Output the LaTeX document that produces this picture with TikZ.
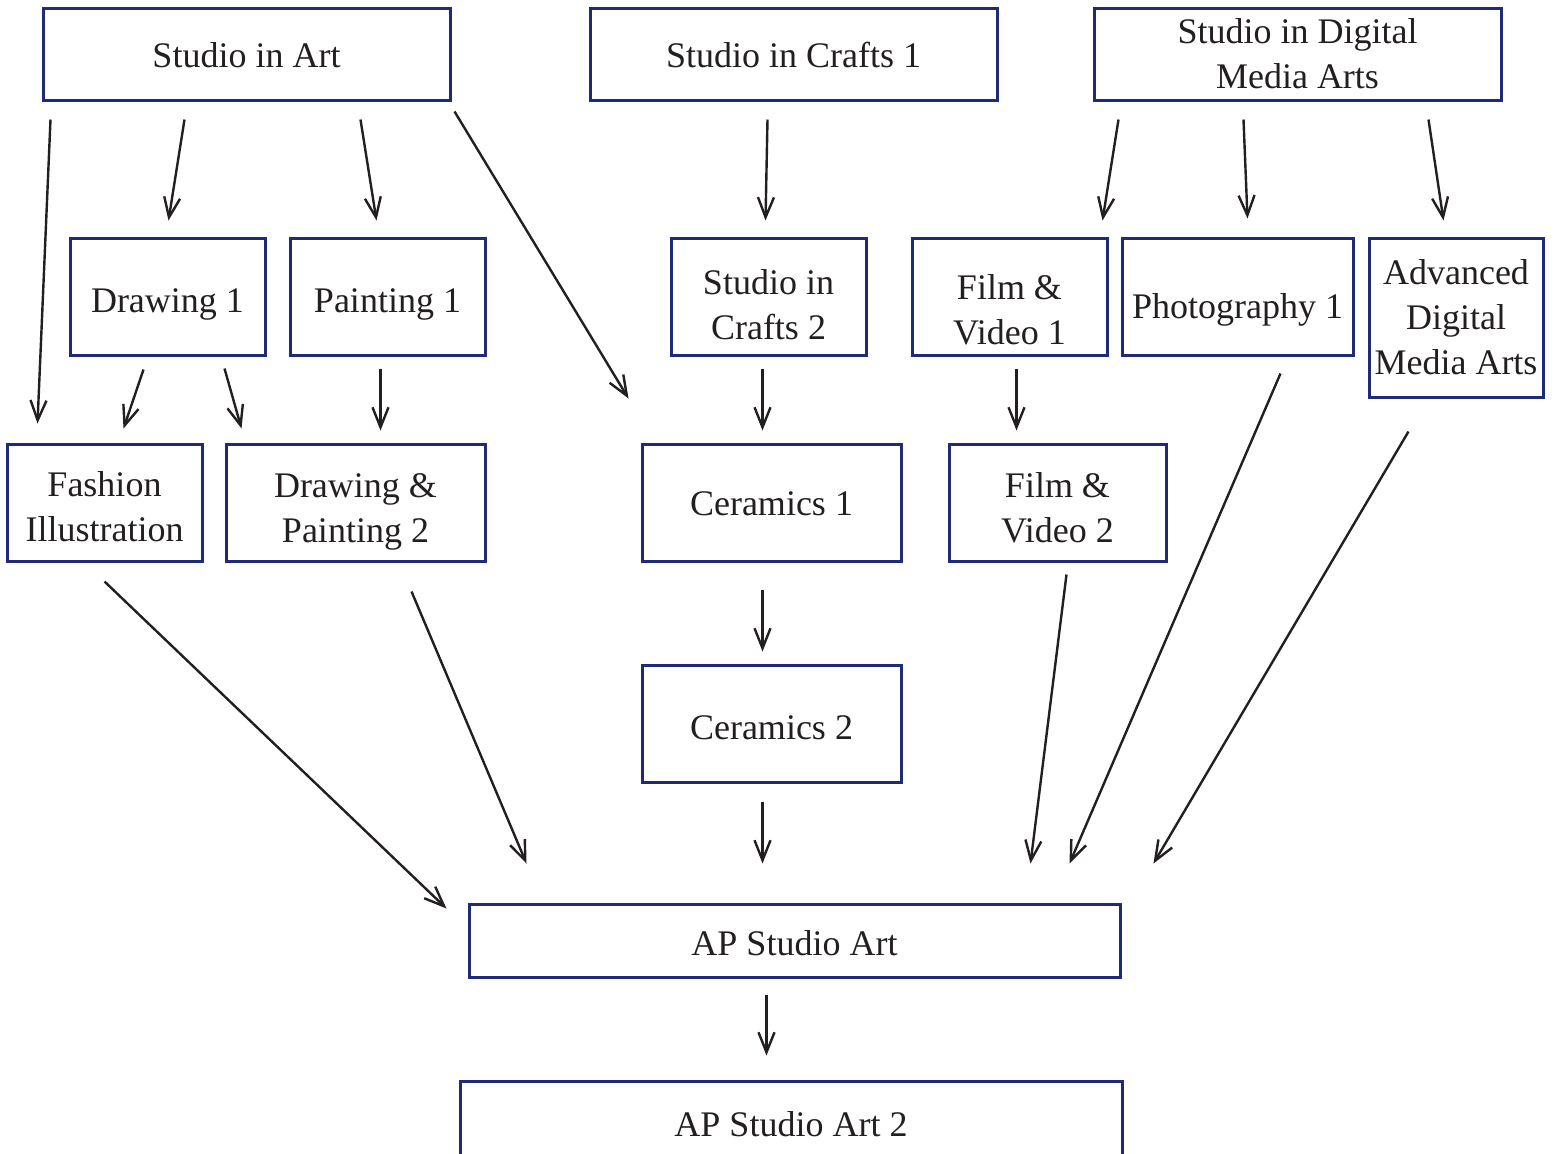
\documentclass[tikz,border=0pt]{standalone}
\usepackage{fontspec}
\setmainfont{Liberation Serif}
\usetikzlibrary{arrows.meta,calc}
\definecolor{navy}{HTML}{1F2A78}
\definecolor{ink}{HTML}{231F20}
\tikzset{
  box/.style={draw=navy,line width=1.5pt,rectangle,inner sep=0pt,
    text=ink,font=\fontsize{18pt}{22.5pt}\selectfont},
  arr/.style={draw=ink,line width=1.2pt,-{Straight Barb[length=10pt,width=8pt]}}
}
\newcommand{\mybox}[7]{\node[box,minimum width={(#4-#2)*0.5pt},minimum height={(#5-#3)*0.5pt}] (#1) at ({(#2+#4)/2},{(#3+#5)/2})
  {\raisebox{-#6pt}[\height][\depth]{\begin{tabular}{@{}c@{}}#7\end{tabular}}};}
\begin{document}
\begin{tikzpicture}[x=0.5pt,y=-0.5pt]
\useasboundingbox (0,0) rectangle (1554,1153);
\mybox{sa}{43}{8}{450}{100}{2}{Studio in Art}
\mybox{sc1}{590}{8}{997}{100}{2}{Studio in Crafts 1}
\mybox{sd}{1094}{8}{1501}{100}{1.5}{Studio in Digital\\Media Arts}
\mybox{d1}{70}{238}{265}{355}{3.5}{Drawing 1}
\mybox{p1}{290}{238}{485}{355}{3.5}{Painting 1}
\mybox{sc2}{671}{238}{866}{355}{5.5}{Studio in\\Crafts 2}
\mybox{fv1}{912}{238}{1107}{355}{8}{Film \&\\Video 1}
\mybox{ph}{1122}{238}{1353}{355}{6.5}{Photography 1}
\mybox{adv}{1369}{238}{1543}{397}{1.5}{Advanced\\Digital\\Media Arts}
\mybox{fi}{7}{444}{202}{561}{3.5}{Fashion\\Illustration}
\mybox{dp2}{226}{444}{485}{561}{4}{Drawing \&\\Painting 2}
\mybox{c1}{642}{444}{901}{561}{2}{Ceramics 1}
\mybox{fv2}{949}{444}{1166}{561}{4}{Film \&\\Video 2}
\mybox{c2}{642}{665}{901}{782}{3.5}{Ceramics 2}
\mybox{ap}{469}{904}{1120}{977}{3}{AP Studio Art}
\mybox{ap2}{460}{1081}{1122}{1167}{1.5}{AP Studio Art 2}

\draw[arr] ($(sa.south west)+(9,18)$) -- ($(fi.north west)+(32,-19)$);
\draw[arr] ($(sa.south west)+(143,18)$) -- ($(d1.north west)+(100,-16)$);
\draw[arr] ($(sa.south west)+(319,18)$) -- ($(p1.north west)+(88,-16)$);
\draw[arr] ($(sa.south east)+(3,10)$) -- ($(c1.north west)+(-12,-44)$);
\draw[arr] ($(sc1.south west)+(179,18)$) -- ($(sc2.north west)+(96,-16)$);
\draw[arr] ($(sd.south west)+(26,18)$) -- ($(fv1.north west)+(192,-16)$);
\draw[arr] ($(sd.south west)+(151,18)$) -- ($(ph.north west)+(127,-18)$);
\draw[arr] ($(sd.south west)+(336,18)$) -- ($(adv.north west)+(76,-16)$);
\draw[arr] ($(d1.south west)+(75,13)$) -- ($(fi.north west)+(118,-14)$);
\draw[arr] ($(d1.south west)+(156,12)$) -- ($(dp2.north west)+(17,-14)$);
\draw[arr] ($(p1.south west)+(92,12)$) -- ($(dp2.north west)+(156,-12)$);
\draw[arr] ($(sc2.south west)+(93,12)$) -- ($(c1.north west)+(122,-12)$);
\draw[arr] ($(fv1.south west)+(106,12)$) -- ($(fv2.north west)+(69,-12)$);
\draw[arr] ($(c1.south west)+(122,27)$) -- ($(c2.north west)+(122,-12)$);
\draw[arr] ($(fi.south west)+(99,19)$) -- ($(ap.north west)+(-21,6)$);
\draw[arr] ($(dp2.south west)+(187,29)$) -- ($(ap.north west)+(59,-39)$);
\draw[arr] ($(c2.south west)+(122,18)$) -- ($(ap.north west)+(295,-39)$);
\draw[arr] ($(fv2.south west)+(119,12)$) -- ($(ap.north west)+(563,-39)$);
\draw[arr] ($(ph.south west)+(160,17)$) -- ($(ap.north west)+(602,-39)$);
\draw[arr] ($(adv.south west)+(41,33)$) -- ($(ap.north east)+(32,-39)$);
\draw[arr] ($(ap.south west)+(299,16)$) -- ($(ap2.north west)+(308,-24)$);
\end{tikzpicture}
\end{document}
